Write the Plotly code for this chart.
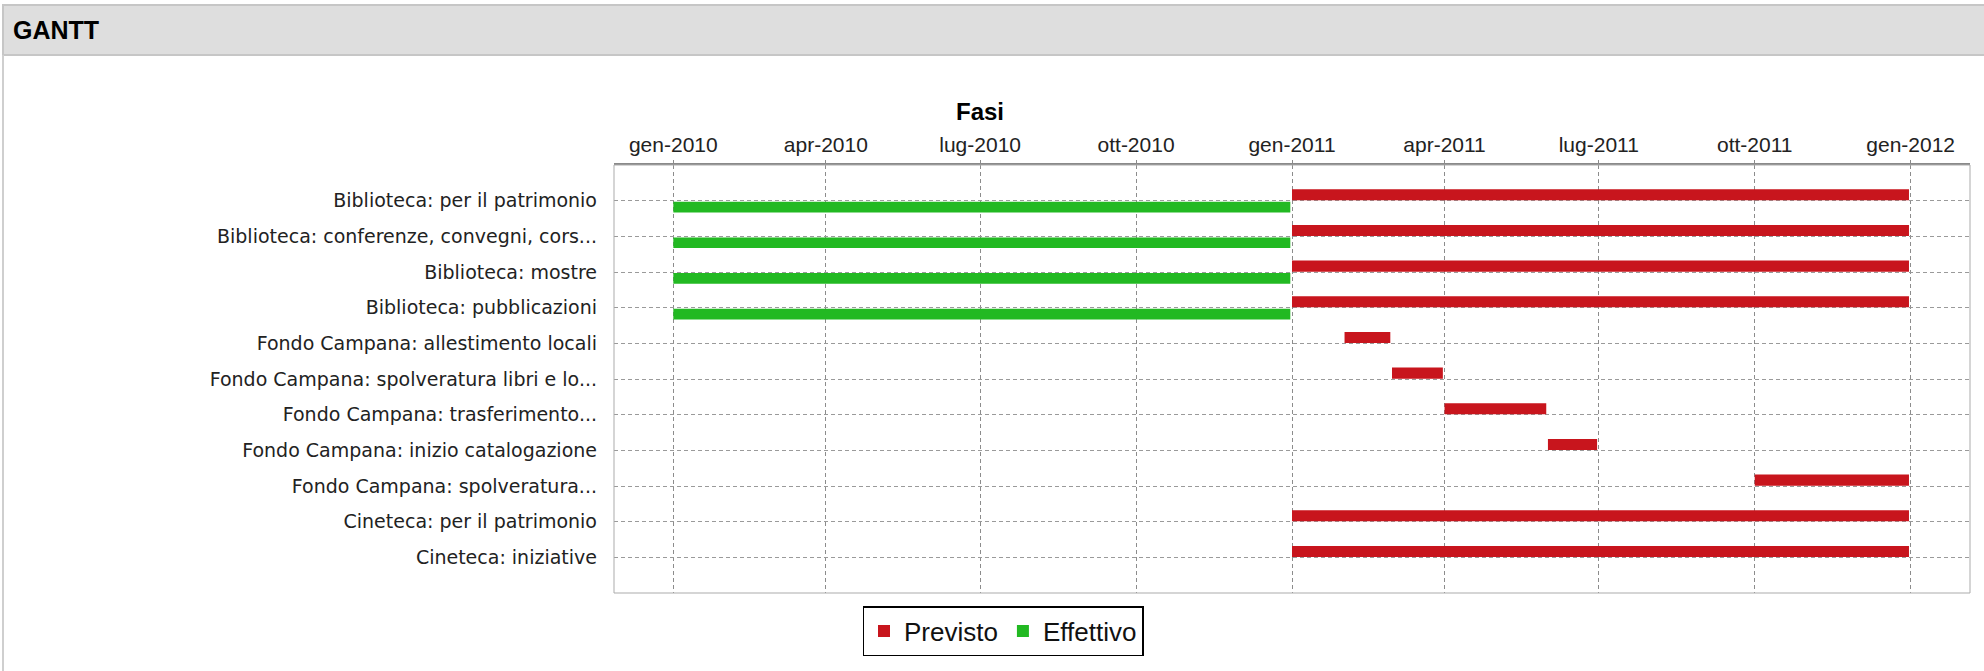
import pandas as pd
import plotly.graph_objects as go

# ---------------- data ----------------
categories = [
    "Biblioteca: per il patrimonio",
    "Biblioteca: conferenze, convegni, cors...",
    "Biblioteca: mostre",
    "Biblioteca: pubblicazioni",
    "Fondo Campana: allestimento locali",
    "Fondo Campana: spolveratura libri e lo...",
    "Fondo Campana: trasferimento...",
    "Fondo Campana: inizio catalogazione",
    "Fondo Campana: spolveratura...",
    "Cineteca: per il patrimonio",
    "Cineteca: iniziative",
]
previsto_start = ["2011-01-01", "2011-01-01", "2011-01-01", "2011-01-01",
                  "2011-02-01", "2011-03-01", "2011-04-01", "2011-06-01",
                  "2011-10-01", "2011-01-01", "2011-01-01"]
previsto_end = ["2011-12-31", "2011-12-31", "2011-12-31", "2011-12-31",
                "2011-02-28", "2011-03-31", "2011-05-31", "2011-06-30",
                "2011-12-31", "2011-12-31", "2011-12-31"]
effettivo_cats = categories[:4]
effettivo_start = ["2010-01-01", "2010-01-01", "2010-01-01", "2010-01-01"]
effettivo_end = ["2010-12-31", "2010-12-31", "2010-12-31", "2010-12-31"]

tick_dates = ["2010-01-01", "2010-04-01", "2010-07-01", "2010-10-01", "2011-01-01",
              "2011-04-01", "2011-07-01", "2011-10-01", "2012-01-01"]
tick_labels = ["gen-2010", "apr-2010", "lug-2010", "ott-2010", "gen-2011",
               "apr-2011", "lug-2011", "ott-2011", "gen-2012"]
x_range = ["2009-11-27", "2012-02-05"]

# ---------------- geometry helpers ----------------
W, H = 1984, 671
L, R, T, B = 614, 1970, 165, 593


def px_x(p):
    return (p - L) / (R - L)


def px_y(p):
    return (B - p) / (B - T)


def dur_ms(starts, ends):
    return [(pd.Timestamp(e) - pd.Timestamp(s)).total_seconds() * 1000 for s, e in zip(starts, ends)]


idx = {c: i for i, c in enumerate(categories)}

RED = "#C8151D"
GREEN = "#22B922"

fig = go.Figure()
fig.add_trace(go.Bar(
    name="Previsto", orientation="h",
    y=[idx[c] for c in categories], base=previsto_start,
    x=dur_ms(previsto_start, previsto_end),
    width=0.31, offset=-0.32,
    marker=dict(color=RED, line=dict(width=0)),
))
fig.add_trace(go.Bar(
    name="Effettivo", orientation="h",
    y=[idx[c] for c in effettivo_cats], base=effettivo_start,
    x=dur_ms(effettivo_start, effettivo_end),
    width=0.30, offset=0.03,
    marker=dict(color=GREEN, line=dict(width=0)),
))

shapes = [
    # header band
    dict(type="rect", xref="paper", yref="paper",
         x0=px_x(3), x1=px_x(W + 5), y0=px_y(55), y1=px_y(5),
         fillcolor="#DEDEDE", line=dict(color="#C6C6C6", width=2), layer="below"),
    # left border of panel
    dict(type="line", xref="paper", yref="paper",
         x0=px_x(3), x1=px_x(3), y0=px_y(55), y1=px_y(H + 5),
         line=dict(color="#CFCFCF", width=2)),
    # plot border
    dict(type="rect", xref="paper", yref="paper", x0=0, x1=1, y0=0, y1=1,
         line=dict(color="#ABABAB", width=1), layer="above"),
]

annotations = [
    dict(text="<b>GANTT</b>", xref="paper", yref="paper", x=px_x(11), y=px_y(30),
         xanchor="left", yanchor="middle", showarrow=False,
         font=dict(family="Liberation Sans, Arial, sans-serif", size=25, color="#000")),
    dict(text="<b>Fasi</b>", xref="paper", yref="paper", x=px_x(980), y=px_y(112),
         xanchor="center", yanchor="middle", showarrow=False,
         font=dict(family="Liberation Sans, Arial, sans-serif", size=24, color="#000")),
]

fig.update_layout(
    width=W, height=H,
    margin=dict(l=L, r=W - R, t=T, b=H - B, autoexpand=False),
    paper_bgcolor="white", plot_bgcolor="white",
    barmode="overlay",
    shapes=shapes, annotations=annotations,
    showlegend=True,
    legend=dict(orientation="h", x=px_x(1003), xanchor="center", y=px_y(606), yanchor="top",
                bordercolor="#000", borderwidth=1.5, bgcolor="white",
                font=dict(family="Liberation Sans, Arial, sans-serif", size=26, color="#111"),
                itemwidth=30, tracegroupgap=0),
    xaxis=dict(type="date", side="top", range=x_range,
               tickmode="array", tickvals=tick_dates, ticktext=tick_labels,
               ticks="outside", ticklen=3, tickcolor="#8a8a8a",
               showgrid=True, gridcolor="#8c8c8c", griddash="4px,3px", gridwidth=1,
               showline=True, linecolor="#8a8a8a", linewidth=2,
               zeroline=False, fixedrange=True,
               tickfont=dict(family="Liberation Sans, Arial, sans-serif", size=21, color="#222")),
    yaxis=dict(range=[11, -1], tickmode="array",
               tickvals=list(range(len(categories))), ticktext=categories,
               showgrid=True, gridcolor="#9a9a9a", griddash="4px,3px", gridwidth=1,
               zeroline=False, ticks="", ticklabelstandoff=16, showline=False,
               fixedrange=True,
               tickfont=dict(family="DejaVu Sans, Verdana, sans-serif", size=19, color="#222")),
)

fig.write_html("out.html", config={"displayModeBar": False},
               post_script="document.body.style.margin='0';document.body.style.overflow='hidden';")
